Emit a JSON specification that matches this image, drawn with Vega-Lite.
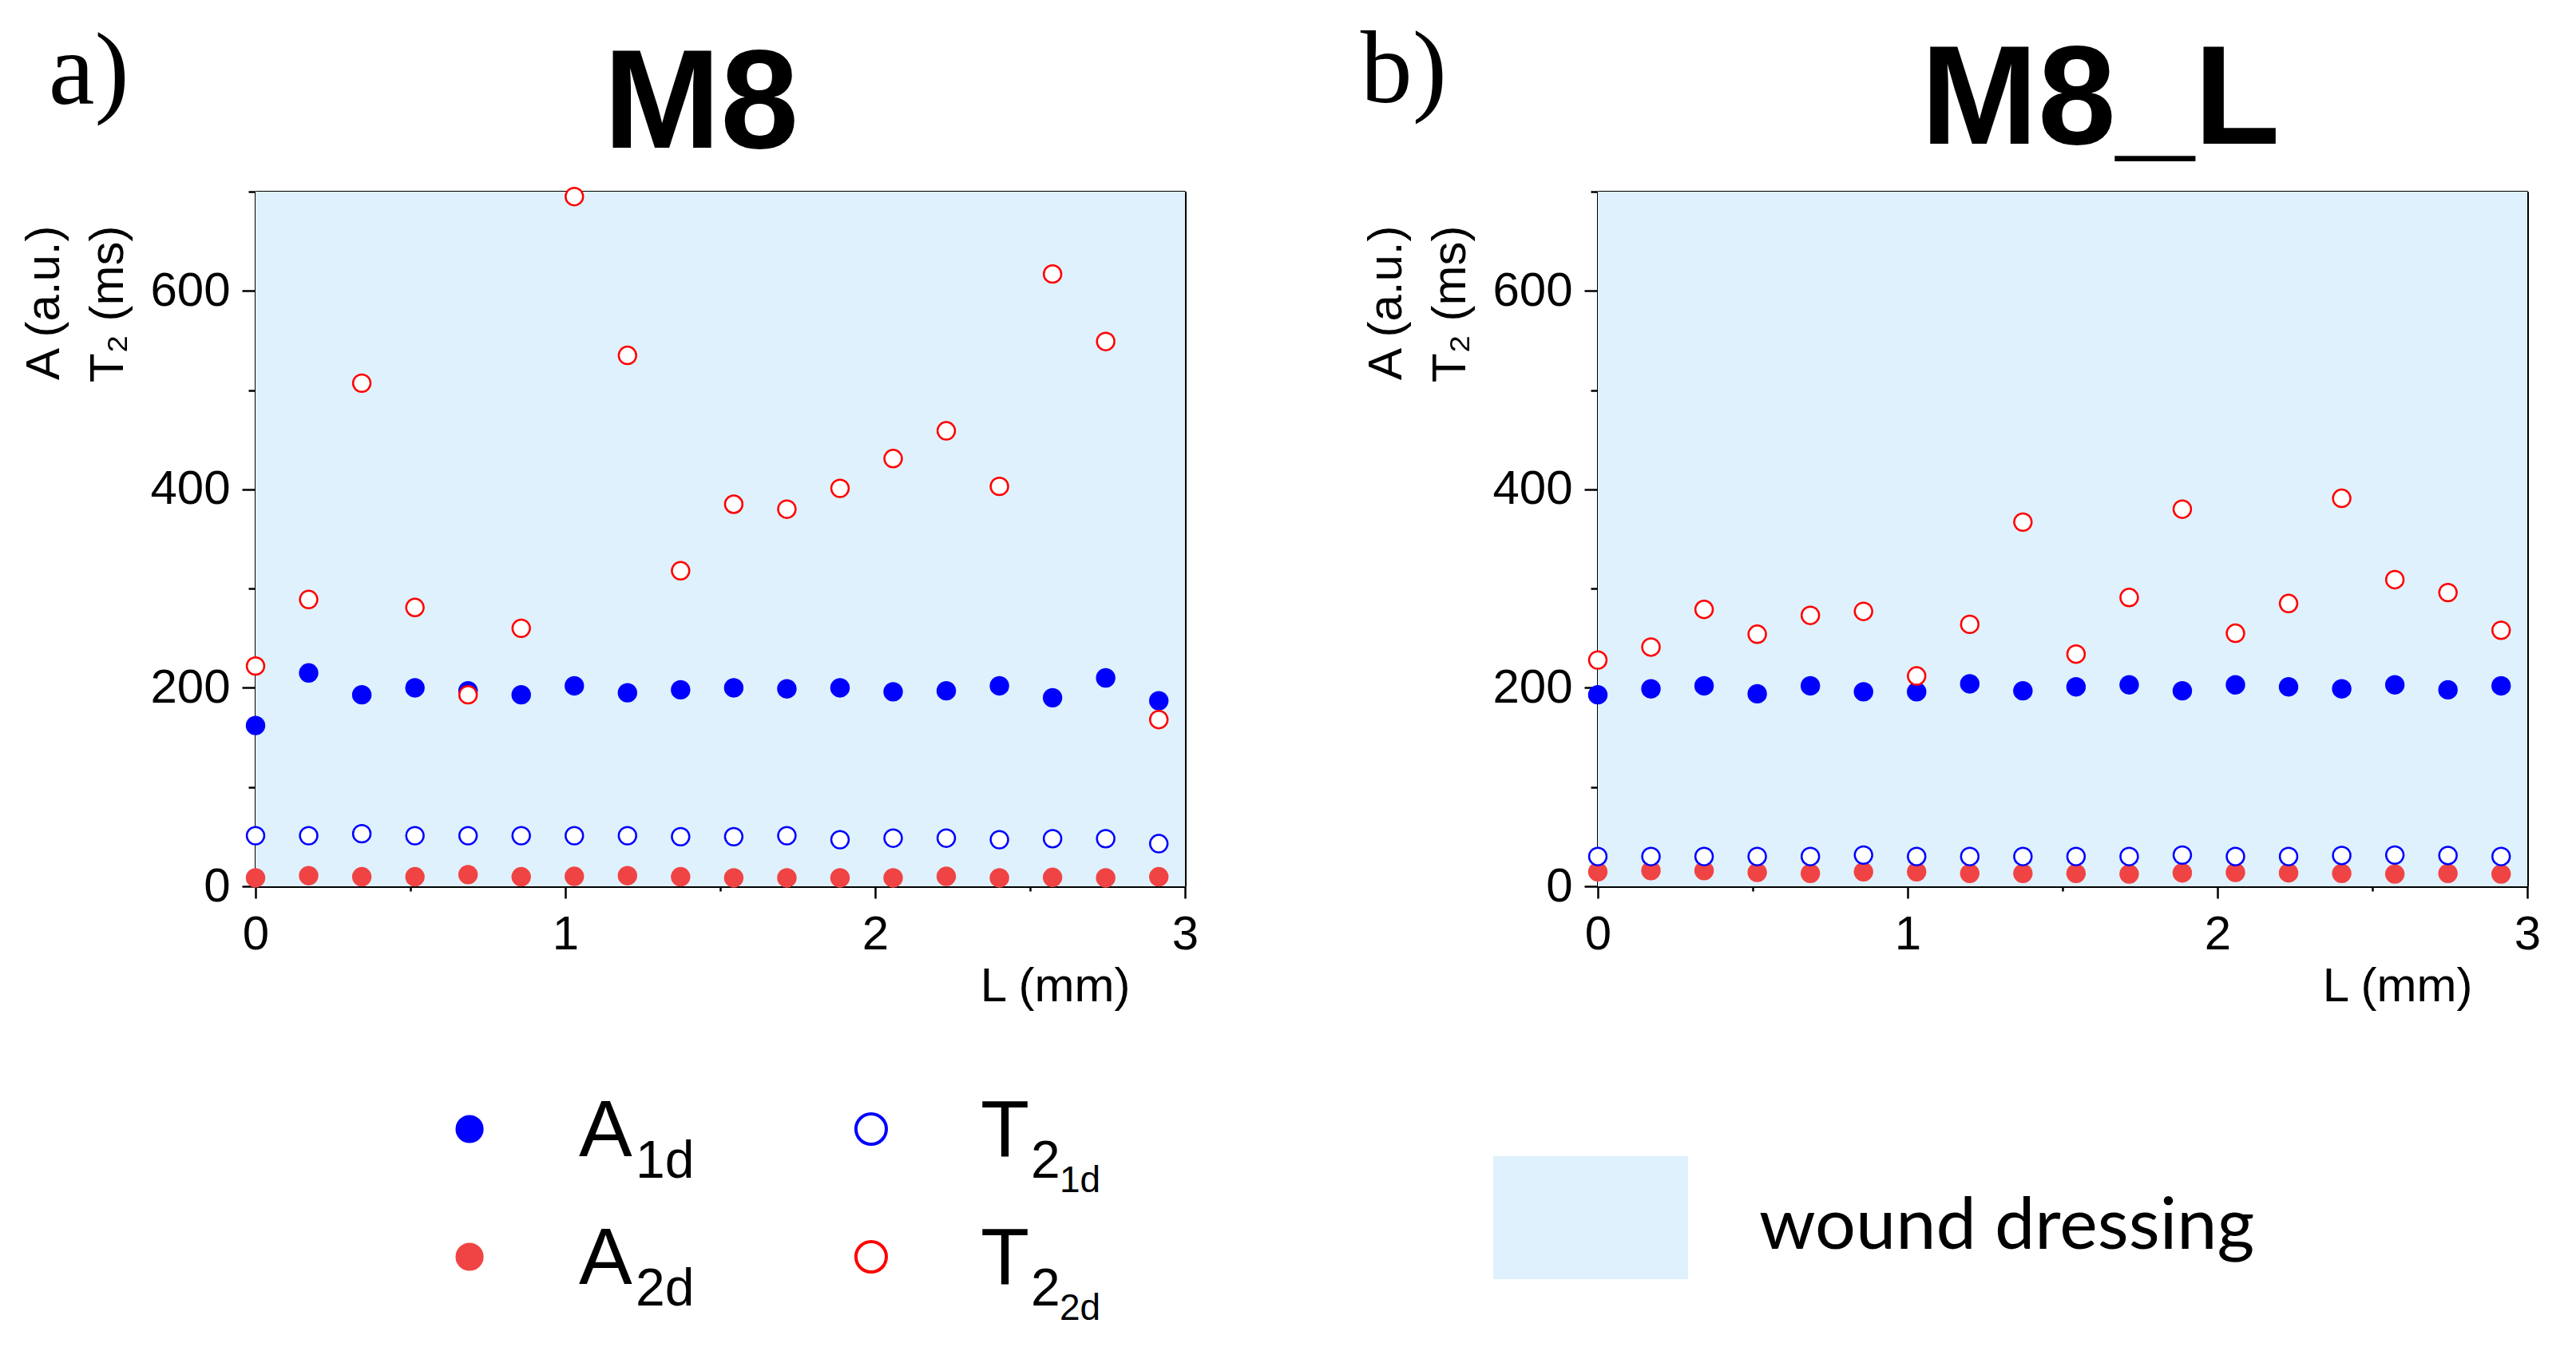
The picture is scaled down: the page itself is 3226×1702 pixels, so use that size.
{
  "$schema": "https://vega.github.io/schema/vega-lite/v6.json",
  "background": "white",
  "padding": {"left": 25, "top": 24, "right": 10, "bottom": 10},
  "autosize": {"type": "pad"},
  "bounds": "flush",
  "columns": 2,
  "spacing": {"row": 224, "column": 517},
  "resolve": {"scale": {"color": "independent"}, "legend": {"color": "independent"}},
  "datasets": {
    "M8": [
      {"L":0,"series":"A1d","value":162},{"L":0.1715,"series":"A1d","value":215},{"L":0.343,"series":"A1d","value":193},{"L":0.5145,"series":"A1d","value":200},{"L":0.686,"series":"A1d","value":197},{"L":0.8575,"series":"A1d","value":193},{"L":1.029,"series":"A1d","value":202},{"L":1.2005,"series":"A1d","value":195},{"L":1.372,"series":"A1d","value":198},{"L":1.5435,"series":"A1d","value":200},{"L":1.715,"series":"A1d","value":199},{"L":1.8865,"series":"A1d","value":200},{"L":2.058,"series":"A1d","value":196},{"L":2.2295,"series":"A1d","value":197},{"L":2.401,"series":"A1d","value":202},{"L":2.5725,"series":"A1d","value":190},{"L":2.744,"series":"A1d","value":210},{"L":2.9155,"series":"A1d","value":187},
      {"L":0,"series":"A2d","value":8.5},{"L":0.1715,"series":"A2d","value":10.7},{"L":0.343,"series":"A2d","value":9.6},{"L":0.5145,"series":"A2d","value":9.6},{"L":0.686,"series":"A2d","value":11.8},{"L":0.8575,"series":"A2d","value":9.6},{"L":1.029,"series":"A2d","value":10},{"L":1.2005,"series":"A2d","value":10.7},{"L":1.372,"series":"A2d","value":9.6},{"L":1.5435,"series":"A2d","value":8.5},{"L":1.715,"series":"A2d","value":8.5},{"L":1.8865,"series":"A2d","value":8.5},{"L":2.058,"series":"A2d","value":8.5},{"L":2.2295,"series":"A2d","value":10},{"L":2.401,"series":"A2d","value":8.5},{"L":2.5725,"series":"A2d","value":9},{"L":2.744,"series":"A2d","value":8.5},{"L":2.9155,"series":"A2d","value":9.6},
      {"L":0,"series":"T2_1d","value":51},{"L":0.1715,"series":"T2_1d","value":51},{"L":0.343,"series":"T2_1d","value":53},{"L":0.5145,"series":"T2_1d","value":51},{"L":0.686,"series":"T2_1d","value":51},{"L":0.8575,"series":"T2_1d","value":51},{"L":1.029,"series":"T2_1d","value":51},{"L":1.2005,"series":"T2_1d","value":51},{"L":1.372,"series":"T2_1d","value":50},{"L":1.5435,"series":"T2_1d","value":50},{"L":1.715,"series":"T2_1d","value":51},{"L":1.8865,"series":"T2_1d","value":47},{"L":2.058,"series":"T2_1d","value":48.5},{"L":2.2295,"series":"T2_1d","value":48.5},{"L":2.401,"series":"T2_1d","value":47},{"L":2.5725,"series":"T2_1d","value":48},{"L":2.744,"series":"T2_1d","value":48},{"L":2.9155,"series":"T2_1d","value":43},
      {"L":0,"series":"T2_2d","value":222},{"L":0.1715,"series":"T2_2d","value":289},{"L":0.343,"series":"T2_2d","value":507},{"L":0.5145,"series":"T2_2d","value":281},{"L":0.686,"series":"T2_2d","value":193},{"L":0.8575,"series":"T2_2d","value":260},{"L":1.029,"series":"T2_2d","value":695},{"L":1.2005,"series":"T2_2d","value":535},{"L":1.372,"series":"T2_2d","value":318},{"L":1.5435,"series":"T2_2d","value":385},{"L":1.715,"series":"T2_2d","value":380},{"L":1.8865,"series":"T2_2d","value":401},{"L":2.058,"series":"T2_2d","value":431},{"L":2.2295,"series":"T2_2d","value":459},{"L":2.401,"series":"T2_2d","value":403},{"L":2.5725,"series":"T2_2d","value":617},{"L":2.744,"series":"T2_2d","value":549},{"L":2.9155,"series":"T2_2d","value":168}
    ],
    "M8_L": [
      {"L":0,"series":"A1d","value":193},{"L":0.1715,"series":"A1d","value":199},{"L":0.343,"series":"A1d","value":202},{"L":0.5145,"series":"A1d","value":194},{"L":0.686,"series":"A1d","value":202},{"L":0.8575,"series":"A1d","value":196},{"L":1.029,"series":"A1d","value":196},{"L":1.2005,"series":"A1d","value":204},{"L":1.372,"series":"A1d","value":197},{"L":1.5435,"series":"A1d","value":201},{"L":1.715,"series":"A1d","value":203},{"L":1.8865,"series":"A1d","value":197},{"L":2.058,"series":"A1d","value":203},{"L":2.2295,"series":"A1d","value":201},{"L":2.401,"series":"A1d","value":199},{"L":2.5725,"series":"A1d","value":203},{"L":2.744,"series":"A1d","value":198},{"L":2.9155,"series":"A1d","value":202},
      {"L":0,"series":"A2d","value":14.6},{"L":0.1715,"series":"A2d","value":15.8},{"L":0.343,"series":"A2d","value":15.8},{"L":0.5145,"series":"A2d","value":14},{"L":0.686,"series":"A2d","value":13},{"L":0.8575,"series":"A2d","value":14.6},{"L":1.029,"series":"A2d","value":14.6},{"L":1.2005,"series":"A2d","value":13},{"L":1.372,"series":"A2d","value":13},{"L":1.5435,"series":"A2d","value":13},{"L":1.715,"series":"A2d","value":12.4},{"L":1.8865,"series":"A2d","value":13.5},{"L":2.058,"series":"A2d","value":14},{"L":2.2295,"series":"A2d","value":13.5},{"L":2.401,"series":"A2d","value":13},{"L":2.5725,"series":"A2d","value":12.4},{"L":2.744,"series":"A2d","value":13},{"L":2.9155,"series":"A2d","value":12.4},
      {"L":0,"series":"T2_1d","value":30},{"L":0.1715,"series":"T2_1d","value":30},{"L":0.343,"series":"T2_1d","value":30},{"L":0.5145,"series":"T2_1d","value":30},{"L":0.686,"series":"T2_1d","value":30},{"L":0.8575,"series":"T2_1d","value":31.5},{"L":1.029,"series":"T2_1d","value":30},{"L":1.2005,"series":"T2_1d","value":30},{"L":1.372,"series":"T2_1d","value":30},{"L":1.5435,"series":"T2_1d","value":30},{"L":1.715,"series":"T2_1d","value":30},{"L":1.8865,"series":"T2_1d","value":31.5},{"L":2.058,"series":"T2_1d","value":30},{"L":2.2295,"series":"T2_1d","value":30},{"L":2.401,"series":"T2_1d","value":31},{"L":2.5725,"series":"T2_1d","value":31.5},{"L":2.744,"series":"T2_1d","value":31},{"L":2.9155,"series":"T2_1d","value":30},
      {"L":0,"series":"T2_2d","value":228},{"L":0.1715,"series":"T2_2d","value":241},{"L":0.343,"series":"T2_2d","value":279},{"L":0.5145,"series":"T2_2d","value":254},{"L":0.686,"series":"T2_2d","value":273},{"L":0.8575,"series":"T2_2d","value":277},{"L":1.029,"series":"T2_2d","value":212},{"L":1.2005,"series":"T2_2d","value":264},{"L":1.372,"series":"T2_2d","value":367},{"L":1.5435,"series":"T2_2d","value":234},{"L":1.715,"series":"T2_2d","value":291},{"L":1.8865,"series":"T2_2d","value":380},{"L":2.058,"series":"T2_2d","value":255},{"L":2.2295,"series":"T2_2d","value":285},{"L":2.401,"series":"T2_2d","value":391},{"L":2.5725,"series":"T2_2d","value":309},{"L":2.744,"series":"T2_2d","value":296},{"L":2.9155,"series":"T2_2d","value":258}
    ]
  },
  "concat": [
    {
      "width": 1164, "height": 870,
      "data": {"name": "M8"},
      "resolve": {"axis": {"x": "independent", "y": "independent"}},
      "layer": [
        {
          "data": {"values": [{"region": "wound dressing"}]},
          "mark": {"type": "rect"},
          "encoding": {
            "x": {"datum": 0, "type": "quantitative", "scale": {"domain": [0, 3], "nice": false, "zero": false},
                  "axis": {"orient": "bottom", "values": [0, 1, 2, 3], "tickSize": 15, "labelPadding": 16, "domain": true,
                           "title": "L (mm)", "titleX": 1095, "titleY": 143, "titleAlign": "right", "titleAnchor": "end", "titleBaseline": "alphabetic"}},
            "x2": {"datum": 3},
            "y": {"datum": 0, "type": "quantitative", "scale": {"domain": [0, 700], "nice": false, "zero": false},
                  "axis": {"orient": "left", "values": [0, 200, 400, 600], "tickSize": 17, "labelPadding": 15, "domain": true,
                           "title": ["A (a.u.)", "T₂ (ms)"], "titleX": -247, "titleY": 42, "titleAngle": -90, "titleAlign": "right", "titleBaseline": "alphabetic", "titleLineHeight": 80}},
            "y2": {"datum": 700},
            "color": {"field": "region", "type": "nominal", "scale": {"domain": ["wound dressing"], "range": ["#DEF1FC"]}, "legend": null}
          }
        },
        {
          "transform": [{"filter": "datum.series === 'A1d' || datum.series === 'A2d'"}],
          "mark": {"type": "point", "shape": "circle", "filled": true, "size": 480, "strokeWidth": 2.5, "opacity": 1},
          "encoding": {
            "x": {"field": "L", "type": "quantitative", "scale": {"domain": [0, 3], "nice": false, "zero": false},
                  "axis": {"orient": "bottom", "values": [0.5, 1.5, 2.5], "tickSize": 6, "labels": false, "domain": false, "title": null}},
            "y": {"field": "value", "type": "quantitative", "scale": {"domain": [0, 700], "nice": false, "zero": false},
                  "axis": {"orient": "left", "values": [100, 300, 500, 700], "tickSize": 9, "labels": false, "domain": false, "title": null}},
            "fill": {"field": "series", "type": "nominal", "scale": {"domain": ["A1d", "A2d", "T2_1d", "T2_2d"], "range": ["#0000FF", "#F04444", "#FFFFFF", "#FFFFFF"]}, "legend": null},
            "stroke": {"field": "series", "type": "nominal", "scale": {"domain": ["A1d", "A2d", "T2_1d", "T2_2d"], "range": ["#0000FF", "#F04444", "#0000FF", "#FF0000"]}, "legend": null}
          }
        },
        {
          "transform": [{"filter": "datum.series === 'T2_1d' || datum.series === 'T2_2d'"}],
          "mark": {"type": "point", "shape": "circle", "filled": true, "size": 480, "strokeWidth": 2.5, "opacity": 1},
          "encoding": {
            "x": {"field": "L", "type": "quantitative", "scale": {"domain": [0, 3], "nice": false, "zero": false},
                  "axis": {"orient": "top", "values": [0, 1, 2, 3], "tickSize": -17, "labels": false, "domain": true, "title": null}},
            "y": {"field": "value", "type": "quantitative", "scale": {"domain": [0, 700], "nice": false, "zero": false},
                  "axis": {"orient": "right", "values": [0, 200, 400, 600], "tickSize": -17, "labels": false, "domain": true, "title": null}},
            "fill": {"field": "series", "type": "nominal", "scale": {"domain": ["A1d", "A2d", "T2_1d", "T2_2d"], "range": ["#0000FF", "#F04444", "#FFFFFF", "#FFFFFF"]}, "legend": null},
            "stroke": {"field": "series", "type": "nominal", "scale": {"domain": ["A1d", "A2d", "T2_1d", "T2_2d"], "range": ["#0000FF", "#F04444", "#0000FF", "#FF0000"]}, "legend": null}
          }
        },
        {
          "data": {"values": [{"label": "a)"}]},
          "mark": {"type": "text", "font": "Liberation Serif", "fontSize": 130, "align": "left", "baseline": "alphabetic", "color": "black"},
          "encoding": {
            "x": {"datum": -0.668, "type": "quantitative", "scale": {"domain": [0, 3], "nice": false, "zero": false},
                  "axis": {"orient": "top", "values": [0.5, 1.5, 2.5], "tickSize": -8, "labels": false, "domain": false, "title": null}},
            "y": {"datum": 788.5, "type": "quantitative", "scale": {"domain": [0, 700], "nice": false, "zero": false},
                  "axis": {"orient": "right", "values": [100, 300, 500, 700], "tickSize": -9, "labels": false, "domain": false, "title": null}},
            "text": {"field": "label"}
          }
        },
        {
          "data": {"values": [{"label": "M8"}]},
          "mark": {"type": "text", "font": "Liberation Sans", "fontWeight": "bold", "fontSize": 176, "align": "center", "baseline": "alphabetic", "color": "black"},
          "encoding": {
            "x": {"datum": 1.438, "type": "quantitative", "scale": {"domain": [0, 3], "nice": false, "zero": false}, "axis": null},
            "y": {"datum": 744, "type": "quantitative", "scale": {"domain": [0, 700], "nice": false, "zero": false}, "axis": null},
            "text": {"field": "label"}
          }
        }
      ]
    },
    {
      "width": 1164, "height": 870,
      "data": {"name": "M8_L"},
      "resolve": {"axis": {"x": "independent", "y": "independent"}},
      "layer": [
        {
          "data": {"values": [{"region": "wound dressing"}]},
          "mark": {"type": "rect"},
          "encoding": {
            "x": {"datum": 0, "type": "quantitative", "scale": {"domain": [0, 3], "nice": false, "zero": false},
                  "axis": {"orient": "bottom", "values": [0, 1, 2, 3], "tickSize": 15, "labelPadding": 16, "domain": true,
                           "title": "L (mm)", "titleX": 1095, "titleY": 143, "titleAlign": "right", "titleAnchor": "end", "titleBaseline": "alphabetic"}},
            "x2": {"datum": 3},
            "y": {"datum": 0, "type": "quantitative", "scale": {"domain": [0, 700], "nice": false, "zero": false},
                  "axis": {"orient": "left", "values": [0, 200, 400, 600], "tickSize": 17, "labelPadding": 15, "domain": true,
                           "title": ["A (a.u.)", "T₂ (ms)"], "titleX": -247, "titleY": 42, "titleAngle": -90, "titleAlign": "right", "titleBaseline": "alphabetic", "titleLineHeight": 80}},
            "y2": {"datum": 700},
            "color": {"field": "region", "type": "nominal", "scale": {"domain": ["wound dressing"], "range": ["#DEF1FC"]},
                      "legend": {"orient": "none", "legendX": -131, "legendY": 1175, "title": null, "padding": 0, "offset": 0,
                                 "symbolType": "M-1,-0.729L1,-0.729L1,0.533L-1,0.533Z", "symbolSize": 59536, "symbolStrokeWidth": 0, "symbolOpacity": 1,
                                 "labelFont": "Lato", "labelFontSize": 90, "labelOffset": 89, "labelColor": "black", "labelLimit": 0}}
          }
        },
        {
          "transform": [{"filter": "datum.series === 'A1d' || datum.series === 'A2d'"}],
          "mark": {"type": "point", "shape": "circle", "filled": true, "size": 480, "strokeWidth": 2.5, "opacity": 1},
          "encoding": {
            "x": {"field": "L", "type": "quantitative", "scale": {"domain": [0, 3], "nice": false, "zero": false},
                  "axis": {"orient": "bottom", "values": [0.5, 1.5, 2.5], "tickSize": 6, "labels": false, "domain": false, "title": null}},
            "y": {"field": "value", "type": "quantitative", "scale": {"domain": [0, 700], "nice": false, "zero": false},
                  "axis": {"orient": "left", "values": [100, 300, 500, 700], "tickSize": 9, "labels": false, "domain": false, "title": null}},
            "fill": {"field": "series", "type": "nominal", "scale": {"domain": ["A1d", "A2d", "T2_1d", "T2_2d"], "range": ["#0000FF", "#F04444", "#FFFFFF", "#FFFFFF"]}, "legend": null},
            "stroke": {"field": "series", "type": "nominal", "scale": {"domain": ["A1d", "A2d", "T2_1d", "T2_2d"], "range": ["#0000FF", "#F04444", "#0000FF", "#FF0000"]}, "legend": null}
          }
        },
        {
          "transform": [{"filter": "datum.series === 'T2_1d' || datum.series === 'T2_2d'"}],
          "mark": {"type": "point", "shape": "circle", "filled": true, "size": 480, "strokeWidth": 2.5, "opacity": 1},
          "encoding": {
            "x": {"field": "L", "type": "quantitative", "scale": {"domain": [0, 3], "nice": false, "zero": false},
                  "axis": {"orient": "top", "values": [0, 1, 2, 3], "tickSize": -17, "labels": false, "domain": true, "title": null}},
            "y": {"field": "value", "type": "quantitative", "scale": {"domain": [0, 700], "nice": false, "zero": false},
                  "axis": {"orient": "right", "values": [0, 200, 400, 600], "tickSize": -17, "labels": false, "domain": true, "title": null}},
            "fill": {"field": "series", "type": "nominal", "scale": {"domain": ["A1d", "A2d", "T2_1d", "T2_2d"], "range": ["#0000FF", "#F04444", "#FFFFFF", "#FFFFFF"]}, "legend": null},
            "stroke": {"field": "series", "type": "nominal", "scale": {"domain": ["A1d", "A2d", "T2_1d", "T2_2d"], "range": ["#0000FF", "#F04444", "#0000FF", "#FF0000"]}, "legend": null}
          }
        },
        {
          "data": {"values": [{"label": "b)"}]},
          "mark": {"type": "text", "font": "Liberation Serif", "fontSize": 130, "align": "left", "baseline": "alphabetic", "color": "black"},
          "encoding": {
            "x": {"datum": -0.766, "type": "quantitative", "scale": {"domain": [0, 3], "nice": false, "zero": false},
                  "axis": {"orient": "top", "values": [0.5, 1.5, 2.5], "tickSize": -8, "labels": false, "domain": false, "title": null}},
            "y": {"datum": 790, "type": "quantitative", "scale": {"domain": [0, 700], "nice": false, "zero": false},
                  "axis": {"orient": "right", "values": [100, 300, 500, 700], "tickSize": -9, "labels": false, "domain": false, "title": null}},
            "text": {"field": "label"}
          }
        },
        {
          "data": {"values": [{"label": "M8_L"}]},
          "mark": {"type": "text", "font": "Liberation Sans", "fontWeight": "bold", "fontSize": 176, "align": "center", "baseline": "alphabetic", "color": "black"},
          "encoding": {
            "x": {"datum": 1.622, "type": "quantitative", "scale": {"domain": [0, 3], "nice": false, "zero": false}, "axis": null},
            "y": {"datum": 748, "type": "quantitative", "scale": {"domain": [0, 700], "nice": false, "zero": false}, "axis": null},
            "text": {"field": "label"}
          }
        }
      ]
    },
    {
      "width": 1039, "height": 320,
      "data": {"values": [
        {"series": "A1d", "group": "A", "level": "1d"},
        {"series": "T2_1d", "group": "T", "level": "1d"},
        {"series": "A2d", "group": "A", "level": "2d"},
        {"series": "T2_2d", "group": "T", "level": "2d"}
      ]},
      "encoding": {
        "x": {"field": "group", "type": "nominal", "scale": {"type": "point", "domain": ["A", "T"], "padding": 0.533}, "axis": null},
        "y": {"field": "level", "type": "nominal", "scale": {"type": "point", "domain": ["1d", "2d"], "padding": 0.5}, "axis": null}
      },
      "layer": [
        {
          "transform": [{"filter": "datum.group === 'A'"}],
          "mark": {"type": "point", "shape": "circle", "filled": true, "size": 1100, "strokeWidth": 2, "opacity": 1},
          "encoding": {
            "fill": {"field": "series", "type": "nominal", "scale": {"domain": ["A1d", "A2d", "T2_1d", "T2_2d"], "range": ["#0000FF", "#F04444", "#FFFFFF", "#FFFFFF"]}, "legend": null},
            "stroke": {"field": "series", "type": "nominal", "scale": {"domain": ["A1d", "A2d", "T2_1d", "T2_2d"], "range": ["#0000FF", "#F04444", "#0000FF", "#FF0000"]}, "legend": null}
          }
        },
        {
          "transform": [{"filter": "datum.group === 'T'"}],
          "mark": {"type": "point", "shape": "circle", "filled": true, "size": 1450, "strokeWidth": 4, "opacity": 1},
          "encoding": {
            "fill": {"field": "series", "type": "nominal", "scale": {"domain": ["A1d", "A2d", "T2_1d", "T2_2d"], "range": ["#0000FF", "#F04444", "#FFFFFF", "#FFFFFF"]}, "legend": null},
            "stroke": {"field": "series", "type": "nominal", "scale": {"domain": ["A1d", "A2d", "T2_1d", "T2_2d"], "range": ["#0000FF", "#F04444", "#0000FF", "#FF0000"]}, "legend": null}
          }
        },
        {
          "mark": {"type": "text", "font": "Liberation Sans", "fontSize": 100, "align": "left", "baseline": "alphabetic", "dx": 137, "dy": 34, "color": "black"},
          "encoding": {"text": {"field": "group"}}
        },
        {
          "transform": [{"filter": "datum.group === 'A'"}],
          "mark": {"type": "text", "font": "Liberation Sans", "fontSize": 66, "align": "left", "baseline": "alphabetic", "dx": 208, "dy": 61, "color": "black"},
          "encoding": {"text": {"field": "level"}}
        },
        {
          "transform": [{"filter": "datum.group === 'T'"}],
          "mark": {"type": "text", "font": "Liberation Sans", "fontSize": 66, "align": "left", "baseline": "alphabetic", "dx": 200, "dy": 61, "color": "black", "text": "2"},
          "encoding": {}
        },
        {
          "transform": [{"filter": "datum.group === 'T'"}],
          "mark": {"type": "text", "font": "Liberation Sans", "fontSize": 46, "align": "left", "baseline": "alphabetic", "dx": 236, "dy": 79, "color": "black"},
          "encoding": {"text": {"field": "level"}}
        }
      ]
    }
  ],
  "config": {
    "view": {"stroke": null},
    "axis": {"domainColor": "black", "domainWidth": 3, "tickColor": "black", "tickWidth": 2.5, "grid": false,
             "labelFont": "Liberation Sans", "labelFontSize": 60, "labelColor": "black", "labelFlush": false, "labelOverlap": false,
             "titleFont": "Liberation Sans", "titleFontSize": 60, "titleFontWeight": "normal", "titleColor": "black"},
    "text": {"color": "black"}
  }
}
